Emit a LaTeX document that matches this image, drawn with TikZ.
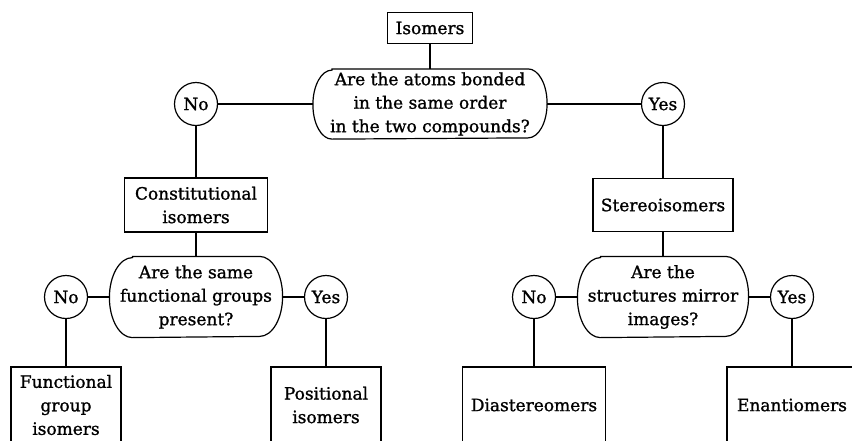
\documentclass[tikz,border=0pt]{standalone}
\usepackage{fontspec}
\setmainfont{DejaVu Serif}[BoldFont=DejaVu Serif, BoldFeatures={FakeBold=1.2}]

\begin{document}
\begin{tikzpicture}[x=1pt, y=-1pt, line width=1.2pt,
        every node/.style={font=\fontsize{17}{23.5}\selectfont\bfseries, align=center, inner sep=0pt},
        box/.style={draw, rectangle},
        query/.style={rectangle},
        answer/.style={draw, circle, minimum size=43pt}]
        \useasboundingbox (0,0) rectangle (852,440);
        % top question
        \node[box, minimum width=85pt, minimum height=31pt] (isomers) at (430,28) {Isomers};
        \node[query, minimum width=233pt, minimum height=69pt] (q1) at (430,104)
            {Are the atoms bonded\\in the same order\\in the two compounds?};
        \node[answer] (no1) at (196,104) {No};
        \node[answer] (yes1) at (663,104) {Yes};
        \node[box, minimum width=143pt, minimum height=54pt] (const) at (196,205) {Constitutional\\isomers};
        \node[box, minimum width=140pt, minimum height=53pt] (stereo) at (663,205) {Stereoisomers};
        % second level questions
        \node[query, minimum width=172pt, minimum height=80pt] (q2) at (196,297)
            {Are the same\\functional groups\\present?};
        \node[query, minimum width=170pt, minimum height=80pt] (q3) at (663,297)
            {Are the\\structures mirror\\images?};
        \node[answer] (no2) at (66,297) {No};
        \node[answer] (yes2) at (326,297) {Yes};
        \node[answer] (no3) at (534,297) {No};
        \node[answer] (yes3) at (792,297) {Yes};
        % outline of the questions: flat top and bottom, half ellipses at the ends
        \foreach \q/\s/\r in {q1/19pt/34.5pt, q2/23pt/40pt, q3/23pt/40pt}
            {
                \draw ([xshift=\s]\q.north west) -- ([xshift=-\s]\q.north east)
                    arc[start angle=90, end angle=-90, x radius=\s, y radius=\r]
                    -- ([xshift=\s]\q.south west)
                    arc[start angle=270, end angle=90, x radius=\s, y radius=\r] -- cycle;
            }
        % bottom boxes, cut by the page edge
        \node[box, minimum width=110pt, minimum height=76pt] (funct) at (66,405) {Functional\\group\\isomers};
        \node[box, minimum width=110pt, minimum height=76pt] (posit) at (326,405) {Positional\\isomers};
        \node[box, minimum width=143pt, minimum height=76pt] (diast) at (534,405) {Diastereomers};
        \node[box, minimum width=130pt, minimum height=76pt] (enant) at (792,405) {Enantiomers};
        \foreach \a/\b in {isomers/q1, no1/q1, q1/yes1, no1/const, yes1/stereo,
                const/q2, stereo/q3, no2/q2, q2/yes2, no3/q3, q3/yes3,
                no2/funct, yes2/posit, no3/diast, yes3/enant}
            {
                \draw (\a) -- (\b);
            }
    \end{tikzpicture}
\end{document}
